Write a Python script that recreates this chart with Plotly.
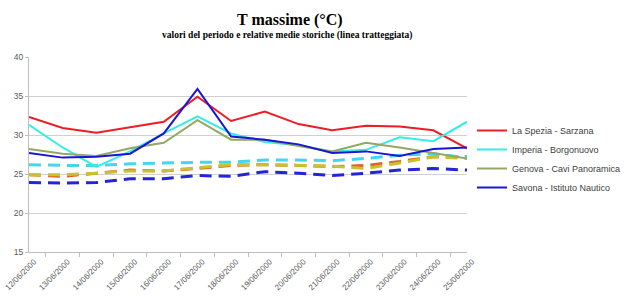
import plotly.graph_objects as go

dates = ["12/06/2000", "13/06/2000", "14/06/2000", "15/06/2000", "16/06/2000", "17/06/2000",
         "18/06/2000", "19/06/2000", "20/06/2000", "21/06/2000", "22/06/2000", "23/06/2000",
         "24/06/2000", "25/06/2000"]

# observed maxima
la_spezia = [32.3, 30.9, 30.3, 31.0, 31.7, 34.9, 31.8, 33.0, 31.4, 30.6, 31.2, 31.1, 30.6, 28.3]
imperia = [31.3, 28.4, 25.9, 27.9, 30.2, 32.4, 30.2, 29.1, 28.7, 27.9, 28.1, 29.7, 29.2, 31.7]
genova = [28.2, 27.6, 27.3, 28.3, 29.0, 31.9, 29.4, 29.4, 28.6, 27.9, 29.0, 28.4, 27.7, 27.0]
savona = [27.7, 27.1, 27.2, 27.6, 30.2, 35.9, 29.8, 29.4, 28.8, 27.7, 27.9, 27.3, 28.2, 28.4]

# historical means (dashed)
la_spezia_hist = [24.9, 24.7, 25.1, 25.5, 25.4, 25.7, 26.1, 26.2, 26.1, 25.95, 26.1, 26.6, 27.2, 27.2]
imperia_hist = [26.2, 26.1, 26.1, 26.3, 26.4, 26.5, 26.5, 26.8, 26.8, 26.7, 27.0, 27.4, 27.6, 27.1]
genova_hist = [24.9, 24.9, 25.1, 25.4, 25.4, 25.8, 26.2, 26.2, 26.1, 26.0, 25.7, 26.4, 27.2, 27.0]
savona_hist = [23.9, 23.85, 23.9, 24.4, 24.4, 24.8, 24.7, 25.3, 25.1, 24.8, 25.1, 25.5, 25.7, 25.5]

names = ["La Spezia - Sarzana", "Imperia - Borgonuovo", "Genova - Cavi Panoramica", "Savona - Istituto Nautico"]
obs = [la_spezia, imperia, genova, savona]
hist = [la_spezia_hist, imperia_hist, genova_hist, savona_hist]
colors = ["#ee1c25", "#33eee6", "#93a862", "#1a14d6"]
hist_colors = ["#e2622a", "#45d6ee", "#c6c230", "#2424d8"]

W, H = 633, 300
L, T, R, B = 29, 57, 166, 48
pw, ph = W - L - R, H - T - B


def px(xp):
    return (xp - L) / pw


def py(yp):
    return (T + ph - yp) / ph


fig = go.Figure()
for h, c in zip(hist, hist_colors):
    fig.add_trace(go.Scatter(x=dates, y=h, mode="lines", showlegend=False,
                             line=dict(color=c, width=3, dash="12px,7px")))
for n, o, c in zip(names, obs, colors):
    fig.add_trace(go.Scatter(x=dates, y=o, mode="lines", name=n,
                             line=dict(color=c, width=2)))

fig.update_layout(
    width=W, height=H,
    margin=dict(l=L, r=R, t=T, b=B, autoexpand=False),
    paper_bgcolor="white", plot_bgcolor="white",
    font=dict(family="Liberation Sans", size=8, color="#595959"),
    legend=dict(x=px(472), y=py(116), xanchor="left", yanchor="top",
                font=dict(size=9, color="#404040"), bgcolor="rgba(0,0,0,0)",
                itemwidth=30, tracegroupgap=0),
    annotations=[
        dict(text="<b>T massime (°C)</b>", x=px(290), y=py(20),
             xref="paper", yref="paper", xanchor="center", yanchor="middle",
             showarrow=False, font=dict(family="Liberation Serif", size=16, color="black")),
        dict(text="<b>valori del periodo e relative medie storiche (linea tratteggiata)</b>",
             x=px(287), y=py(36), xref="paper", yref="paper",
             xanchor="center", yanchor="middle", showarrow=False,
             font=dict(family="Liberation Serif", size=9.5, color="black")),
    ],
)

fig.update_xaxes(type="category", tickangle=-45, showgrid=False, automargin=False,
                 showline=True, linecolor="#bfbfbf", linewidth=1,
                 ticks="outside", tickson="boundaries", ticklen=4, tickcolor="#bfbfbf",
                 ticklabelshift=5, ticklabelstandoff=1,
                 tickfont=dict(size=8, color="#595959"))
fig.update_yaxes(range=[15, 40], dtick=5, showgrid=True, gridcolor="#d0d0d0", gridwidth=1,
                 showline=True, linecolor="#bfbfbf", linewidth=1, automargin=False,
                 ticks="outside", ticklen=3, tickcolor="#bfbfbf", zeroline=False,
                 tickfont=dict(size=8.5, color="#595959"))

fig.write_html("out.html", config={"displayModeBar": False},
               post_script="document.body.style.margin='0px';document.body.style.overflow='hidden';")
